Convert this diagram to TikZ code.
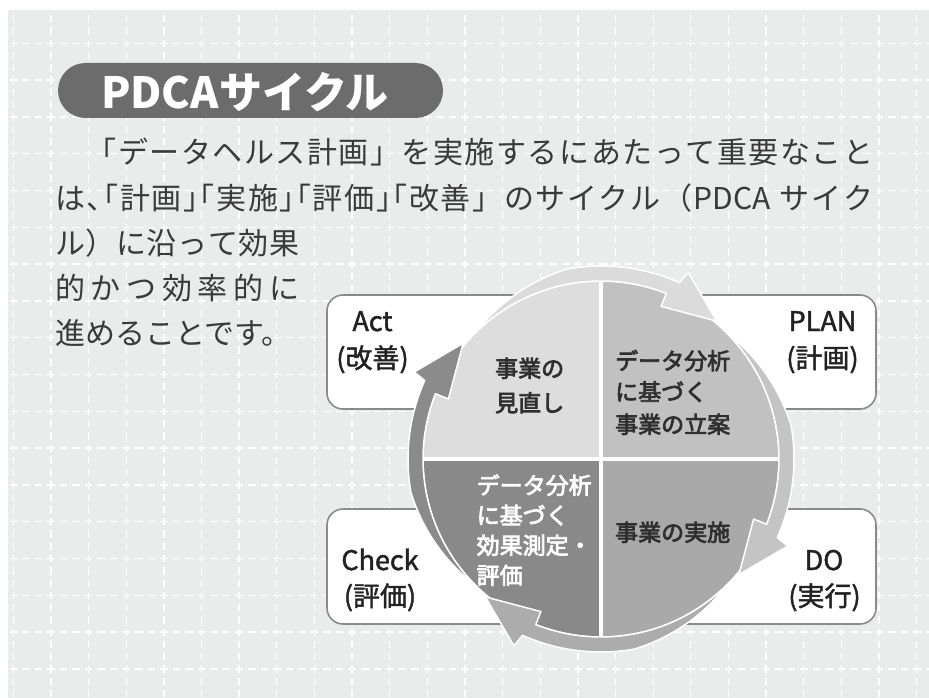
\documentclass[tikz,border=0pt]{standalone}
\usepackage{fontspec}
\setmainfont{Noto Sans CJK JP}
\newfontfamily\lblfont[FakeBold=1.6]{Noto Sans CJK JP}
\newfontfamily\piefont[FakeBold=3.2]{Noto Sans CJK JP}
\definecolor{bg}{HTML}{EAEBEB}
\definecolor{pill}{HTML}{6C6C6C}
\definecolor{txt}{HTML}{3A3A3A}
\definecolor{boxline}{HTML}{8A8A8A}
\definecolor{qTL}{HTML}{DDDDDD}
\definecolor{qTR}{HTML}{C1C1C1}
\definecolor{qBR}{HTML}{A9A9A9}
\definecolor{qBL}{HTML}{898989}
\definecolor{aTop}{HTML}{DBDBDB}
\definecolor{aRight}{HTML}{C4C4C4}
\definecolor{aBot}{HTML}{ACACAC}
\definecolor{aLeft}{HTML}{8B8B8B}
\definecolor{lbl}{HTML}{222222}
\definecolor{pietxt}{HTML}{2F2F2F}
% justification helpers
\def\jstend{JSTEND}
\def\jst#1{\jstA#1\jstend}
\def\jstA#1{#1\jstB}
\def\jstB#1{\ifx\jstend#1\else\hfil#1\expandafter\jstB\fi}
\newcommand\obr[1]{\makebox[0.5em][r]{#1}}
\newcommand\cbr[1]{\makebox[0.5em][l]{#1}}
\newcommand\cycarrow[2]{%
  \pgfmathsetmacro\cycA{#1+85}%
  \pgfmathsetmacro\cycB{#1+16}%
  \pgfmathsetmacro\cycC{#1+18.5}%
  \pgfmathsetmacro\cycD{#1+15}%
  \filldraw[fill=#2, draw=white, line width=1.5pt, line join=round]
    (\cycA:178) arc[start angle=\cycA, end angle=\cycC, radius=178pt]
    -- (\cycC:164) -- (#1:180) -- (\cycD:206) -- (\cycB:193)
    -- plot[domain=\cycB:\cycA, samples=60] (\x:{min(193,178+15*(\cycA-\x)/35)})
    -- cycle;
}
\tikzset{
  vgrid/.style={white, line width=1.3pt, dash pattern=on 7.27pt off 5pt},
  hgrid/.style={white, line width=1.3pt, dash pattern=on 7.55pt off 5pt},
  bodytxt/.style={inner sep=0pt, text=txt, font=\fontsize{30}{45}\selectfont},
  labelbox/.style={draw=boxline, fill=white, line width=1.6pt, rounded corners=16pt, inner sep=0pt},
  boxlbl/.style={inner sep=0pt, anchor=base, text=lbl, font=\lblfont\fontsize{27}{32}\selectfont},
  pielbl/.style={inner sep=0pt, anchor=base west, text=pietxt, font=\piefont\fontsize{23}{30}\selectfont},
  pielblw/.style={pielbl, text=white},
}
\begin{document}
\begin{tikzpicture}[x=1pt, y=-1pt]
\useasboundingbox (0,0) rectangle (929,698);
\fill[white] (0,0) rectangle (929,698);
\fill[bg] (8,10) rectangle (929,698);
% grid
\begin{scope}
  \clip (8,10) rectangle (929,698);
  \foreach \i in {0,...,24} \draw[vgrid] ({13.3+37.64*\i}, 2.85) -- ({13.3+37.64*\i}, 700);
  \foreach \j in {0,...,17} \draw[hgrid] (-28.1, {43.3+36.8*\j}) -- (930, {43.3+36.8*\j});
\end{scope}
% title
\fill[pill, rounded corners=27.5pt] (58,63) rectangle (443,118);
\node[inner sep=0pt, text=white, font=\fontsize{43}{50}\selectfont\bfseries] (title) at (245,92) {PDCAサイクル};
% body text
\node[bodytxt, anchor=base west] (l1) at (55,164) {\hbox to 818pt{\jst{　「データヘルス計画」を実施するにあたって重要なこと}}};
\node[bodytxt, anchor=base west] (l2) at (55,209.5) {\hbox to 818pt{\jst{は{\cbr{、}}{\obr{「}}計画{\cbr{」}}{\obr{「}}実施{\cbr{」}}{\obr{「}}評価{\cbr{」}}{\obr{「}}改善」のサイクル（{PDCA}{\hspace{6pt}}サイク}}};
\node[bodytxt, anchor=base west] (l3) at (55,254.5) {\hbox to 244pt{\jst{ル）に沿って効果}}};
\node[bodytxt, anchor=base west] (l4) at (55,299.5) {\hbox to 244pt{\jst{的かつ効率的に}}};
\node[bodytxt, anchor=base west] (l5) at (55,344) {進めることです。};
% label boxes
\node[labelbox, minimum width=233pt, minimum height=114pt] (actbox) at (443.5,352) {};
\node[labelbox, minimum width=236pt, minimum height=114pt] (planbox) at (758,352) {};
\node[labelbox, minimum width=233pt, minimum height=115pt] (checkbox) at (443.5,566.5) {};
\node[labelbox, minimum width=236pt, minimum height=115pt] (dobox) at (758,566.5) {};
\node[boxlbl] (act) at (372.5,331) {Act};
\node[boxlbl] (actj) at (372.5,368) {(改善)};
\node[boxlbl] (plan) at (822.5,331) {PLAN};
\node[boxlbl] (planj) at (822.5,368) {(計画)};
\node[boxlbl] (check) at (380,570) {Check};
\node[boxlbl] (checkj) at (380,606) {(評価)};
\node[boxlbl] (do) at (824,570) {DO};
\node[boxlbl] (doj) at (824.5,606) {(実行)};
% cycle
\begin{scope}[shift={(601,459)}, y=1pt]
  \fill[qTR] (0,0) -- (0:178) arc[start angle=0, end angle=90, radius=178pt] -- cycle;
  \fill[qTL] (0,0) -- (90:178) arc[start angle=90, end angle=180, radius=178pt] -- cycle;
  \fill[qBL] (0,0) -- (180:178) arc[start angle=180, end angle=270, radius=178pt] -- cycle;
  \fill[qBR] (0,0) -- (270:178) arc[start angle=270, end angle=360, radius=178pt] -- cycle;
  \draw[white, line width=4pt] (-178,0) -- (178,0);
  \draw[white, line width=4pt] (0,-178) -- (0,178);
  \draw[white, line width=1.5pt] (0,0) circle[radius=178pt];
  \cycarrow{-130}{aBot}
  \cycarrow{-40}{aRight}
  \cycarrow{50}{aTop}
  \cycarrow{140}{aLeft}
\end{scope}
% pie labels
\node[pielbl] (p1a) at (495,377) {事業の};
\node[pielbl] (p1b) at (495,411.5) {見直し};
\node[pielbl] (p2a) at (615,369.5) {データ分析};
\node[pielbl] (p2b) at (615,400.5) {に基づく};
\node[pielbl] (p2c) at (615,433) {事業の立案};
\node[pielbl] (p3) at (615,541) {事業の実施};
\node[pielblw] (p4a) at (476.5,494) {データ分析};
\node[pielblw] (p4b) at (476.5,524) {に基づく};
\node[pielblw] (p4c) at (476.5,554) {効果測定・};
\node[pielblw] (p4d) at (476.5,584) {評価};
\end{tikzpicture}
\end{document}
